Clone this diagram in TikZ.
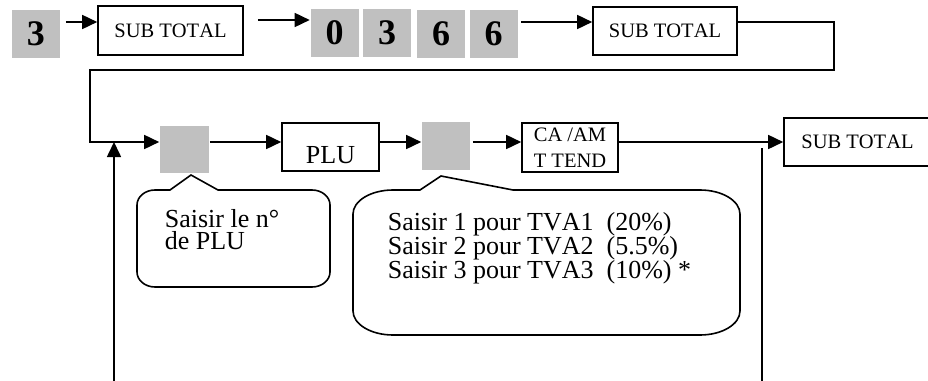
\documentclass[tikz,border=0pt]{standalone}
\usepackage{fontspec}
\setmainfont[Kerning=Off]{Liberation Serif}
\usetikzlibrary{arrows.meta}
\definecolor{keygray}{RGB}{192,192,192}

\begin{document}
\begin{tikzpicture}[x=1pt,y=-1pt,
  line width=1.6pt,
  arr/.style={-{Triangle[length=15pt,width=14pt]}},
  key/.style={fill=keygray, draw=none, minimum width=48pt, minimum height=48pt,
    inner sep=0pt, font=\fontsize{36}{36}\selectfont\bfseries},
  box/.style={draw, inner sep=0pt, font=\fontsize{20.5}{26}\selectfont},
  note/.style={anchor=base west, align=left, inner sep=0pt},
]
\useasboundingbox (0,0) rectangle (928,380);

% ---- first row: 3, SUB TOTAL, 0 3 6 6, SUB TOTAL
\node[key] (k3) at (36,34) {3};
\node[box, minimum width=145pt, minimum height=49pt] (st1) at (170.5,30.5) {SUB TOTAL};
\node[key] (k0)  at (334.5,32.5) {0};
\node[key] (k3b) at (387,32.5) {3};
\node[key] (k6a) at (441,33.5) {6};
\node[key] (k6b) at (493.5,33.5) {6};
\node[box, minimum width=144pt, minimum height=48pt] (st2) at (665,31) {SUB TOTAL};

% ---- second row: PLU entry
\node[key, minimum width=49pt, minimum height=47pt] (kp) at (184.5,149.5) {};
\node[box, minimum width=97pt, minimum height=48pt, font=\fontsize{26}{26}\selectfont,
  text height=32pt, text depth=0pt] (plu) at (330.5,147) {PLU};
\node[key] (kt) at (446,146) {};
\node[box, minimum width=96pt, minimum height=49pt, align=center] (ca) at (570,147.5) {CA /AM\\T TEND};
\node[box, minimum width=147pt, minimum height=48pt] (st3) at (857.5,142) {SUB TOTAL};

% ---- routing points
\coordinate (c1) at (834,70);
\coordinate (c2) at (90,70);
\coordinate (lb) at (114,382);
\coordinate (lt) at (114,142);
\coordinate (rb) at (762,382);
\coordinate (rt) at (762,148);

% ---- connectors
\draw[arr] ([xshift=5pt,yshift=12pt]k3.east) -- ([yshift=8.5pt]st1.west);
\draw[arr] ([xshift=14pt,yshift=10.5pt]st1.east) -- ([yshift=12.5pt]k0.west);
\draw[arr] ([xshift=3pt,yshift=11.5pt]k6b.east) -- ([yshift=9pt]st2.west);
\draw[arr] ([yshift=9pt]st2.east) -| (c1) -- (c2) |- ([yshift=7.5pt]kp.west);
\draw[arr] ([yshift=7.5pt]kp.east) -- ([yshift=5pt]plu.west);
\draw[arr] ([yshift=5pt]plu.east) -- ([yshift=4pt]kt.west);
\draw[arr] ([xshift=2pt,yshift=4pt]kt.east) -- ([yshift=5.5pt]ca.west);
\draw[arr] ([yshift=5.5pt]ca.east) -- (st3.west);
\draw[arr] (lb) -- (lt);
\draw (rb) -- (rt);

% ---- callout for the PLU number (anchor = baseline of the last line)
\draw (155,190) -- (170,190) -- (191,175) -- (218,190) -- (312,190)
  .. controls (321.94,190) and (330,196.72) .. (330,205)
  -- (330,272) .. controls (330,280.28) and (321.94,287) .. (312,287)
  -- (155,287) .. controls (145.06,287) and (137,280.28) .. (137,272)
  -- (137,205) .. controls (137,196.72) and (145.06,190) .. (155,190) -- cycle;
\node[note, font=\fontsize{26}{22}\selectfont] (t1) at (164,249) {Saisir le n°\\de PLU};

% ---- callout for the VAT rate (anchor = baseline of the last line)
\draw (393,190) -- (420,190) -- (441,176) -- (513,190) -- (700,190)
  .. controls (722.09,190) and (740,200.74) .. (740,214)
  -- (740,311) .. controls (740,324.26) and (722.09,335) .. (700,335)
  -- (393,335) .. controls (370.91,335) and (353,324.26) .. (353,311)
  -- (353,214) .. controls (353,200.74) and (370.91,190) .. (393,190) -- cycle;
\node[note, font=\fontsize{26}{24}\selectfont] (t2) at (387,278)
  {Saisir 1 pour TVA1\ \ (20\%)\\Saisir 2 pour TVA2\ \ (5.5\%)\\Saisir 3 pour TVA3\ \ (10\%) *};
\end{tikzpicture}
\end{document}
